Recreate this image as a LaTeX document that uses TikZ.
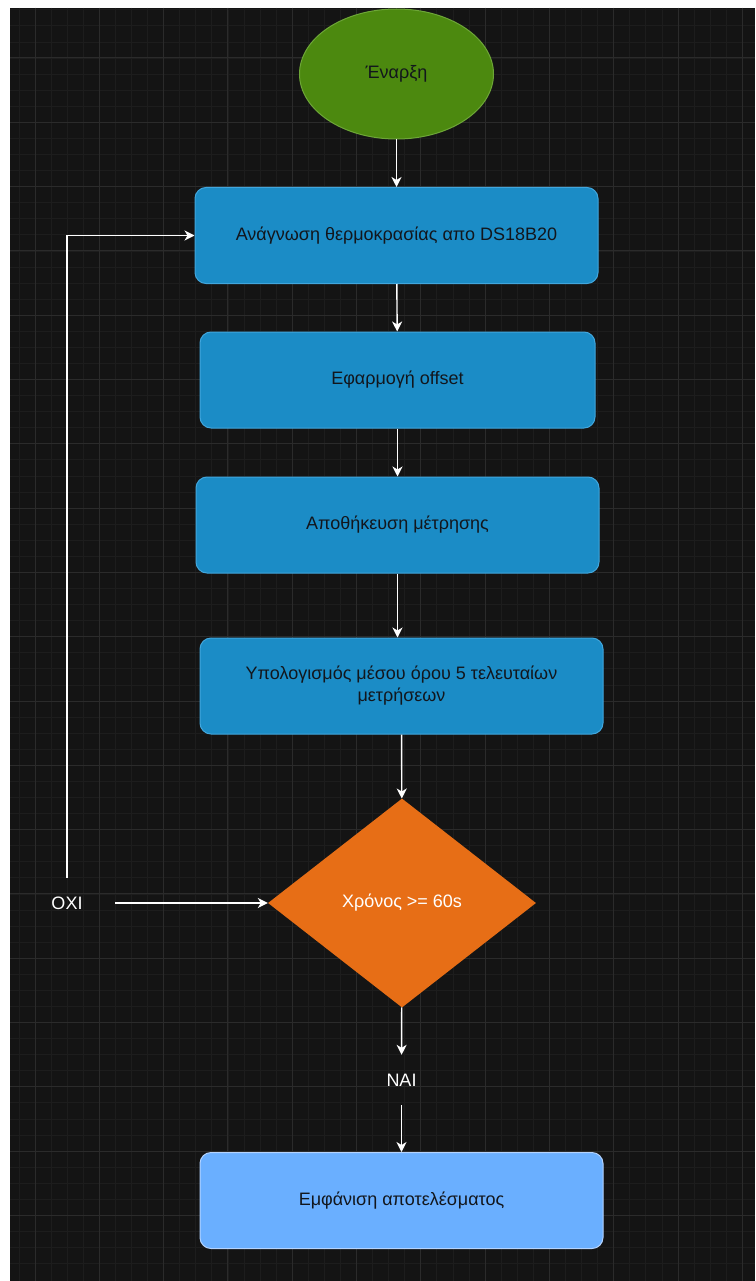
\documentclass[tikz,border=0pt]{standalone}
\usepackage{fontspec}
\setmainfont{Liberation Sans}
\usetikzlibrary{shapes.geometric,arrows.meta}
\definecolor{canvas}{HTML}{141414}
\definecolor{gridminor}{HTML}{1D1D1D}
\definecolor{gridmajor}{HTML}{2B2B2B}
\definecolor{startgreen}{HTML}{4C890F}
\definecolor{startedge}{HTML}{6DA637}
\definecolor{procblue}{HTML}{1B8CC6}
\definecolor{procedge}{HTML}{41A6DD}
\definecolor{endblue}{HTML}{6AAFFF}
\definecolor{endedge}{HTML}{B3D3FF}
\definecolor{checkorange}{HTML}{E76E16}
\definecolor{inkdark}{HTML}{12161C}
\begin{document}
\begin{tikzpicture}[x=1pt,y=-1pt,
  txt/.style={font=\fontsize{18}{22}\selectfont},
  proc/.style={txt,draw=procedge,fill=procblue,line width=1pt,rounded corners=11pt,
    minimum width=403pt,minimum height=96pt,inner sep=0pt,text=inkdark,align=center},
  startnode/.style={txt,ellipse,draw=startedge,fill=startgreen,line width=1pt,
    minimum width=194pt,minimum height=130pt,inner sep=0pt,text=inkdark},
  check/.style={txt,diamond,fill=checkorange,minimum width=268pt,minimum height=209pt,
    aspect=1.28,inner sep=0pt,text=white},
  tag/.style={txt,text=white,minimum width=96pt,minimum height=50pt,inner sep=0pt},
  flow/.style={draw=white,line width=1.4pt,-{Stealth[length=10pt,width=10pt,inset=3pt]}}]
\useasboundingbox (0,0) rectangle (755,1281);
\fill[white] (0,0) rectangle (755,1281);
\fill[canvas] (10,8) rectangle (755,1281);
\foreach \i in {-1,...,44}
  \draw[gridminor,line width=0.8pt] ({35+16.075*\i},8) -- ({35+16.075*\i},1281);
\foreach \j in {-3,...,75}
  \draw[gridminor,line width=0.8pt] (10,{58+16.075*\j}) -- (755,{58+16.075*\j});
\foreach \i in {0,...,11}
  \draw[gridmajor,line width=1pt] ({35+64.3*\i},8) -- ({35+64.3*\i},1281);
\foreach \j in {0,...,18}
  \draw[gridmajor,line width=1pt] (10,{58+64.3*\j}) -- (755,{58+64.3*\j});

\node[startnode] (start) at (396.5,74) {Έναρξη};
\node[proc] (read) at (396.5,235.5) {Ανάγνωση θερμοκρασίας απο DS18B20};
\node[proc,minimum width=395pt] (offset) at (397.5,380) {Εφαρμογή offset};
\node[proc] (store) at (397.5,525) {Αποθήκευση μέτρησης};
\node[proc] (mean) at (401.5,686) {Υπολογισμός μέσου όρου 5 τελευταίων\\μετρήσεων};
\node[check] (timer) at (402,903) {Χρόνος >= 60s};
\node[tag] (yes) at (401.5,1080) {ΝΑΙ};
\node[proc,fill=endblue,draw=endedge] (show) at (401.5,1200.5) {Εμφάνιση αποτελέσματος};
\node[tag] (no) at (67,903) {ΟΧΙ};

\draw[flow] (start) -- (read);
\draw[flow] (read) -- (offset);
\draw[flow] (offset) -- (store);
\draw[flow] (store.south) -- (store.south |- mean.north);
\draw[flow] (mean) -- (timer);
\draw[flow] (timer) -- (yes);
\draw[flow] (yes) -- (show);
\draw[flow] (no) -- (timer);
\draw[flow] (no.north) |- (read.west);
\end{tikzpicture}
\end{document}
